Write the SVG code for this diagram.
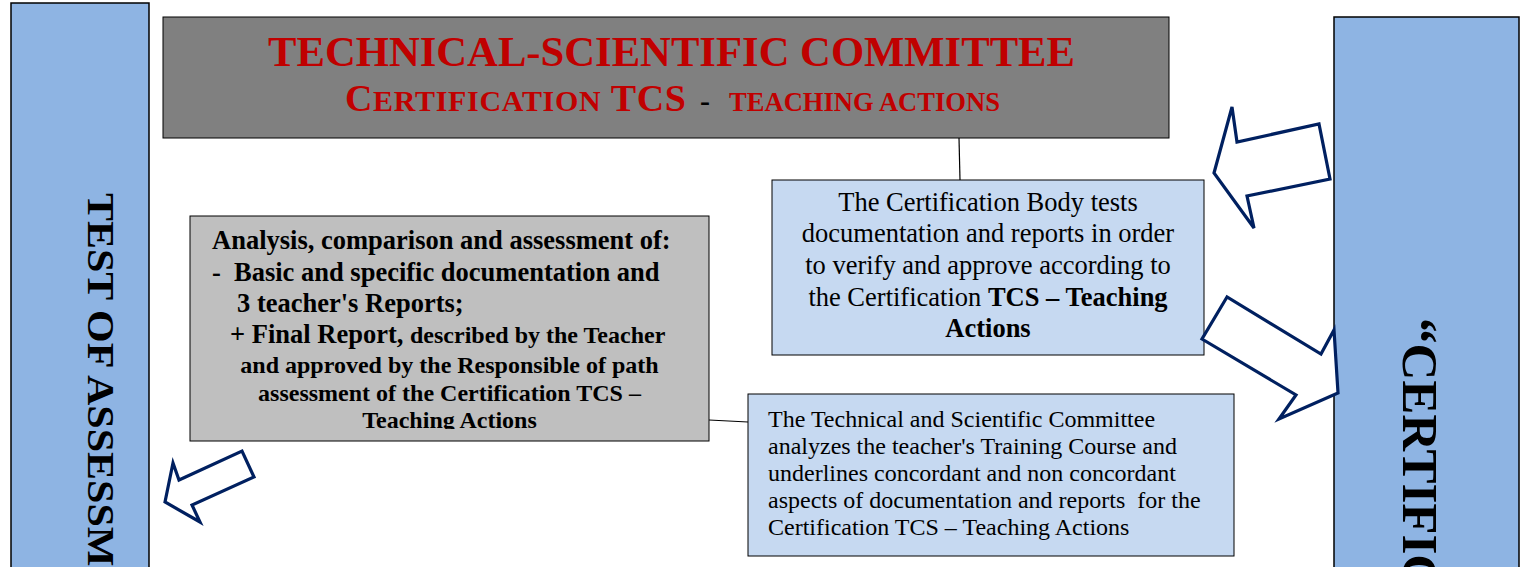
<svg xmlns="http://www.w3.org/2000/svg" width="1527" height="567" viewBox="0 0 1527 567">
<style>
.bar{fill:#8EB4E3;stroke:#000;stroke-width:1.5}
.box{stroke:#000;stroke-width:1}
.lb{fill:#C6D9F1}
.serif{font-family:"Liberation Serif","Times New Roman",serif;fill:#000}
.b{font-weight:bold}
.red{fill:#C00000}
.arrow{fill:#fff;stroke:#002060;stroke-width:3.2;stroke-linejoin:miter}
.conn{stroke:#000;stroke-width:1.2;fill:none}
</style>
<defs>
<clipPath id="clipA"><rect x="190" y="216" width="519" height="213"/></clipPath>
</defs>
<g id="left-bar">
<rect class="bar" x="11" y="3" width="138" height="570"/>
<text class="serif b" font-size="37.5" transform="translate(88,193) rotate(90) scale(1.12,1)">TEST OF ASSESSM</text>
</g>
<g id="right-bar">
<rect class="bar" x="1334" y="17" width="185" height="560"/>
<text class="serif b" font-size="51" transform="translate(1403,318) rotate(90)">“CERTIFIC</text>
</g>
<g id="title">
<rect class="box" x="163" y="17" width="1006" height="121" fill="#808080"/>
<text class="serif b red" x="268" y="66" font-size="42" textLength="807" lengthAdjust="spacingAndGlyphs">TECHNICAL-SCIENTIFIC COMMITTEE</text>
<text class="serif b red" x="345" y="111" font-size="38" textLength="341" lengthAdjust="spacing">C<tspan font-size="30">ERTIFICATION</tspan> TCS</text>
<text class="serif b" x="700" y="111" font-size="30">-</text>
<text class="serif b red" x="729" y="111" font-size="27" textLength="271" lengthAdjust="spacingAndGlyphs">TEACHING ACTIONS</text>
</g>
<g id="connectors">
<line class="conn" x1="959" y1="138" x2="960" y2="180"/>
<line class="conn" x1="709" y1="420" x2="748" y2="422"/>
</g>
<g id="analysis">
<rect class="box" x="190" y="216" width="519" height="225" fill="#BFBFBF"/>
<g clip-path="url(#clipA)">
<text class="serif b" x="212" y="249" font-size="26.5">Analysis, comparison and assessment of:</text>
<text class="serif b" y="281" font-size="26.5"><tspan x="212">-</tspan><tspan x="234">Basic and specific documentation and</tspan></text>
<text class="serif b" x="237" y="312" font-size="26.5">3 teacher's Reports;</text>
<text class="serif b" x="230" y="343" font-size="26.5">+ Final Report, <tspan font-size="24">described by the Teacher</tspan></text>
<text class="serif b" x="449.5" y="373" font-size="24" text-anchor="middle">and approved by the Responsible of path</text>
<text class="serif b" x="449.5" y="401" font-size="24" text-anchor="middle">assessment of the Certification TCS –</text>
<text class="serif b" x="449.5" y="428" font-size="24" text-anchor="middle">Teaching Actions</text>
</g>
</g>
<g id="cert-body">
<rect class="box lb" x="772" y="180" width="432" height="175"/>
<text class="serif" x="988" y="211" font-size="26.5" text-anchor="middle">The Certification Body tests</text>
<text class="serif" x="988" y="242" font-size="26.5" text-anchor="middle">documentation and reports in order</text>
<text class="serif" x="988" y="274" font-size="26.5" text-anchor="middle">to verify and approve according to</text>
<text class="serif" x="988" y="306" font-size="26.5" text-anchor="middle">the Certification <tspan class="b">TCS – Teaching</tspan></text>
<text class="serif b" x="988" y="337" font-size="26.5" text-anchor="middle">Actions</text>
</g>
<g id="committee">
<rect class="box lb" x="748" y="394" width="486" height="162"/>
<text class="serif" x="768" y="427" font-size="24">The Technical and Scientific Committee</text>
<text class="serif" x="768" y="454" font-size="24">analyzes the teacher's Training Course and</text>
<text class="serif" x="768" y="481" font-size="24">underlines concordant and non concordant</text>
<text class="serif" x="768" y="508" font-size="24" xml:space="preserve">aspects of documentation and reports  for the</text>
<text class="serif" x="768" y="535" font-size="24">Certification TCS – Teaching Actions</text>
</g>
<g id="arrows">
<polygon class="arrow" points="1214,173 1232,107 1237,142 1319,124 1330,179 1247,196 1254,228"/>
<polygon class="arrow" points="1227,297 1202,339 1296,395 1279,419 1338,393 1334,330 1321,354"/>
<polygon class="arrow" points="165,502 173,463 179,480 242,451 254,477 192,505 200,522"/>
</g>
</svg>
